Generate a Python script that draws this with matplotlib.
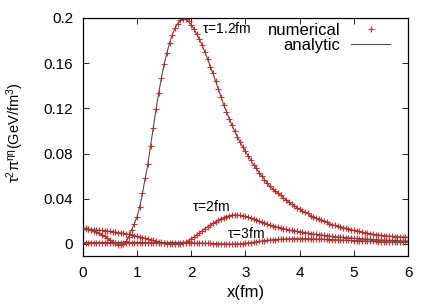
import numpy as np
import matplotlib
matplotlib.use("Agg")
import matplotlib.pyplot as plt

plt.rcParams["font.family"] = ["Liberation Sans", "DejaVu Sans"]
plt.rcParams["mathtext.fontset"] = "custom"
plt.rcParams["mathtext.rm"] = "Liberation Sans"
plt.rcParams["mathtext.it"] = "Liberation Sans"
plt.rcParams["mathtext.default"] = "regular"

# sampling grid in x (fm), step 0.05
x = np.round(np.arange(121) * 0.05, 2)

tau12 = [
    0.0140, 0.0138, 0.0133, 0.0127, 0.0118, 0.0108, 0.0096, 0.0082, 0.0067, 0.0051,
    0.0035, 0.0018, 0.0004, -0.0006, -0.0008, 0.0000, 0.0022, 0.0065, 0.0125, 0.0180,
    0.0240, 0.0330, 0.0450, 0.0580, 0.0710, 0.0870, 0.1030, 0.1190, 0.1340, 0.1470,
    0.1590, 0.1690, 0.1780, 0.1850, 0.1910, 0.1950, 0.1980, 0.1990, 0.1990, 0.1970,
    0.1940, 0.1900, 0.1860, 0.1810, 0.1760, 0.1700, 0.1640, 0.1570, 0.1510, 0.1440,
    0.1370, 0.1300, 0.1230, 0.1170, 0.1110, 0.1050, 0.1000, 0.0950, 0.0900, 0.0860,
    0.0820, 0.0780, 0.0740, 0.0700, 0.0670, 0.0630, 0.0600, 0.0570, 0.0540, 0.0510,
    0.0490, 0.0470, 0.0450, 0.0430, 0.0410, 0.0390, 0.0370, 0.0350, 0.0340, 0.0320,
    0.0310, 0.0290, 0.0280, 0.0270, 0.0250, 0.0240, 0.0230, 0.0220, 0.0210, 0.0200,
    0.0190, 0.0180, 0.0170, 0.0165, 0.0160, 0.0150, 0.0145, 0.0140, 0.0133, 0.0127,
    0.0120, 0.0115, 0.0110, 0.0105, 0.0100, 0.0095, 0.0091, 0.0087, 0.0083, 0.0080,
    0.0077, 0.0074, 0.0071, 0.0069, 0.0067, 0.0065, 0.0063, 0.0062, 0.0061, 0.0060,
    0.0059,
]

tau2 = [
    0.0130, 0.0129, 0.0128, 0.0127, 0.0125, 0.0123, 0.0121, 0.0119, 0.0117, 0.0114,
    0.0111, 0.0108, 0.0105, 0.0101, 0.0097, 0.0093, 0.0089, 0.0084, 0.0079, 0.0074,
    0.0068, 0.0062, 0.0056, 0.0050, 0.0044, 0.0038, 0.0031, 0.0025, 0.0019, 0.0013,
    0.0008, 0.0003, -0.0001, -0.0004, -0.0005, -0.0004, 0.0000, 0.0007, 0.0017, 0.0030,
    0.0045, 0.0062, 0.0080, 0.0098, 0.0116, 0.0134, 0.0151, 0.0167, 0.0182, 0.0196,
    0.0210, 0.0222, 0.0233, 0.0242, 0.0250, 0.0255, 0.0257, 0.0256, 0.0253, 0.0249,
    0.0244, 0.0238, 0.0231, 0.0223, 0.0214, 0.0205, 0.0192, 0.0183, 0.0175, 0.0167,
    0.0160, 0.0153, 0.0147, 0.0141, 0.0135, 0.0130, 0.0125, 0.0120, 0.0116, 0.0112,
    0.0108, 0.0104, 0.0100, 0.0096, 0.0092, 0.0088, 0.0085, 0.0082, 0.0079, 0.0076,
    0.0073, 0.0070, 0.0067, 0.0065, 0.0062, 0.0060, 0.0058, 0.0056, 0.0054, 0.0052,
    0.0050, 0.0048, 0.0046, 0.0045, 0.0043, 0.0042, 0.0040, 0.0039, 0.0038, 0.0036,
    0.0035, 0.0034, 0.0033, 0.0032, 0.0031, 0.0030, 0.0029, 0.0028, 0.0027, 0.0027,
    0.0026,
]

tau3 = [
    0.0012, 0.0012, 0.0012, 0.0012, 0.0012, 0.0012, 0.0012, 0.0012, 0.0012, 0.0012,
    0.0012, 0.0012, 0.0012, 0.0012, 0.0012, 0.0012, 0.0012, 0.0012, 0.0012, 0.0012,
    0.0012, 0.0012, 0.0012, 0.0012, 0.0012, 0.0012, 0.0012, 0.0012, 0.0012, 0.0012,
    0.0012, 0.0012, 0.0012, 0.0012, 0.0012, 0.0012, 0.0011, 0.0011, 0.0011, 0.0010,
    0.0010, 0.0009, 0.0008, 0.0008, 0.0007, 0.0006, 0.0005, 0.0004, 0.0003, 0.0002,
    0.0002, 0.0001, 0.0001, 0.0000, 0.0000, 0.0000, 0.0000, 0.0000, 0.0001, 0.0002,
    0.0006, 0.0009, 0.0012, 0.0015, 0.0019, 0.0022, 0.0026, 0.0029, 0.0032, 0.0035,
    0.0037, 0.0039, 0.0041, 0.0042, 0.0043, 0.0044, 0.0045, 0.0045, 0.0046, 0.0046,
    0.0046, 0.0046, 0.0046, 0.0046, 0.0045, 0.0045, 0.0044, 0.0043, 0.0042, 0.0041,
    0.0040, 0.0039, 0.0038, 0.0037, 0.0036, 0.0035, 0.0034, 0.0033, 0.0032, 0.0031,
    0.0030, 0.0029, 0.0028, 0.0027, 0.0026, 0.0025, 0.0024, 0.0023, 0.0022, 0.0021,
    0.0020, 0.0019, 0.0018, 0.0018, 0.0017, 0.0016, 0.0015, 0.0015, 0.0014, 0.0014,
    0.0013,
]

curves = [tau12, tau2, tau3]
curve_labels = [r"$\tau$=1.2fm", r"$\tau$=2fm", r"$\tau$=3fm"]
label_pos = [(2.2, 0.191), (2.01, 0.0327), (2.66, 0.0088)]

xticks = [0, 1, 2, 3, 4, 5, 6]
yticks = [0, 0.04, 0.08, 0.12, 0.16, 0.2]
ytick_labels = ["0", "0.04", "0.08", "0.12", "0.16", "0.2"]

fig = plt.figure(figsize=(4.36, 3.05), dpi=100)
ax = fig.add_axes([0.190, 0.161, 0.746, 0.780])

for i, y in enumerate(curves):
    ax.plot(x, y, linestyle="none", marker="+", markersize=5, markeredgewidth=0.8,
            color="#ff2020", label="numerical" if i == 0 else None, zorder=2)
for i, y in enumerate(curves):
    ax.plot(x, y, color="#505050", lw=0.8,
            label="analytic" if i == 0 else None, zorder=3)

for text, (tx, ty) in zip(curve_labels, label_pos):
    ax.text(tx, ty, text, fontsize=10, ha="left", va="center")

ax.set_xlim(0, 6)
ax.set_ylim(-0.0106, 0.2)
ax.set_xticks(xticks)
ax.set_yticks(yticks)
ax.set_yticklabels(ytick_labels)
ax.tick_params(direction="in", top=True, right=True, length=4, width=0.6,
               labelsize=11, pad=7)
for s in ax.spines.values():
    s.set_linewidth(0.9)

ax.set_xlabel("x(fm)", fontsize=12, labelpad=4)
ax.set_ylabel(r"$\tau^2\pi^{\eta\eta}$(GeV/fm$^3$)", fontsize=10.5)
ax.yaxis.set_label_coords(-0.175, 0.52)

ax.legend(loc="upper right", bbox_to_anchor=(0.945, 0.98), frameon=False,
          markerfirst=False, fontsize=12, handlelength=2.35, handletextpad=0.65,
          labelspacing=0.0, borderpad=0, borderaxespad=0)

fig.savefig("out.png", dpi=100)
